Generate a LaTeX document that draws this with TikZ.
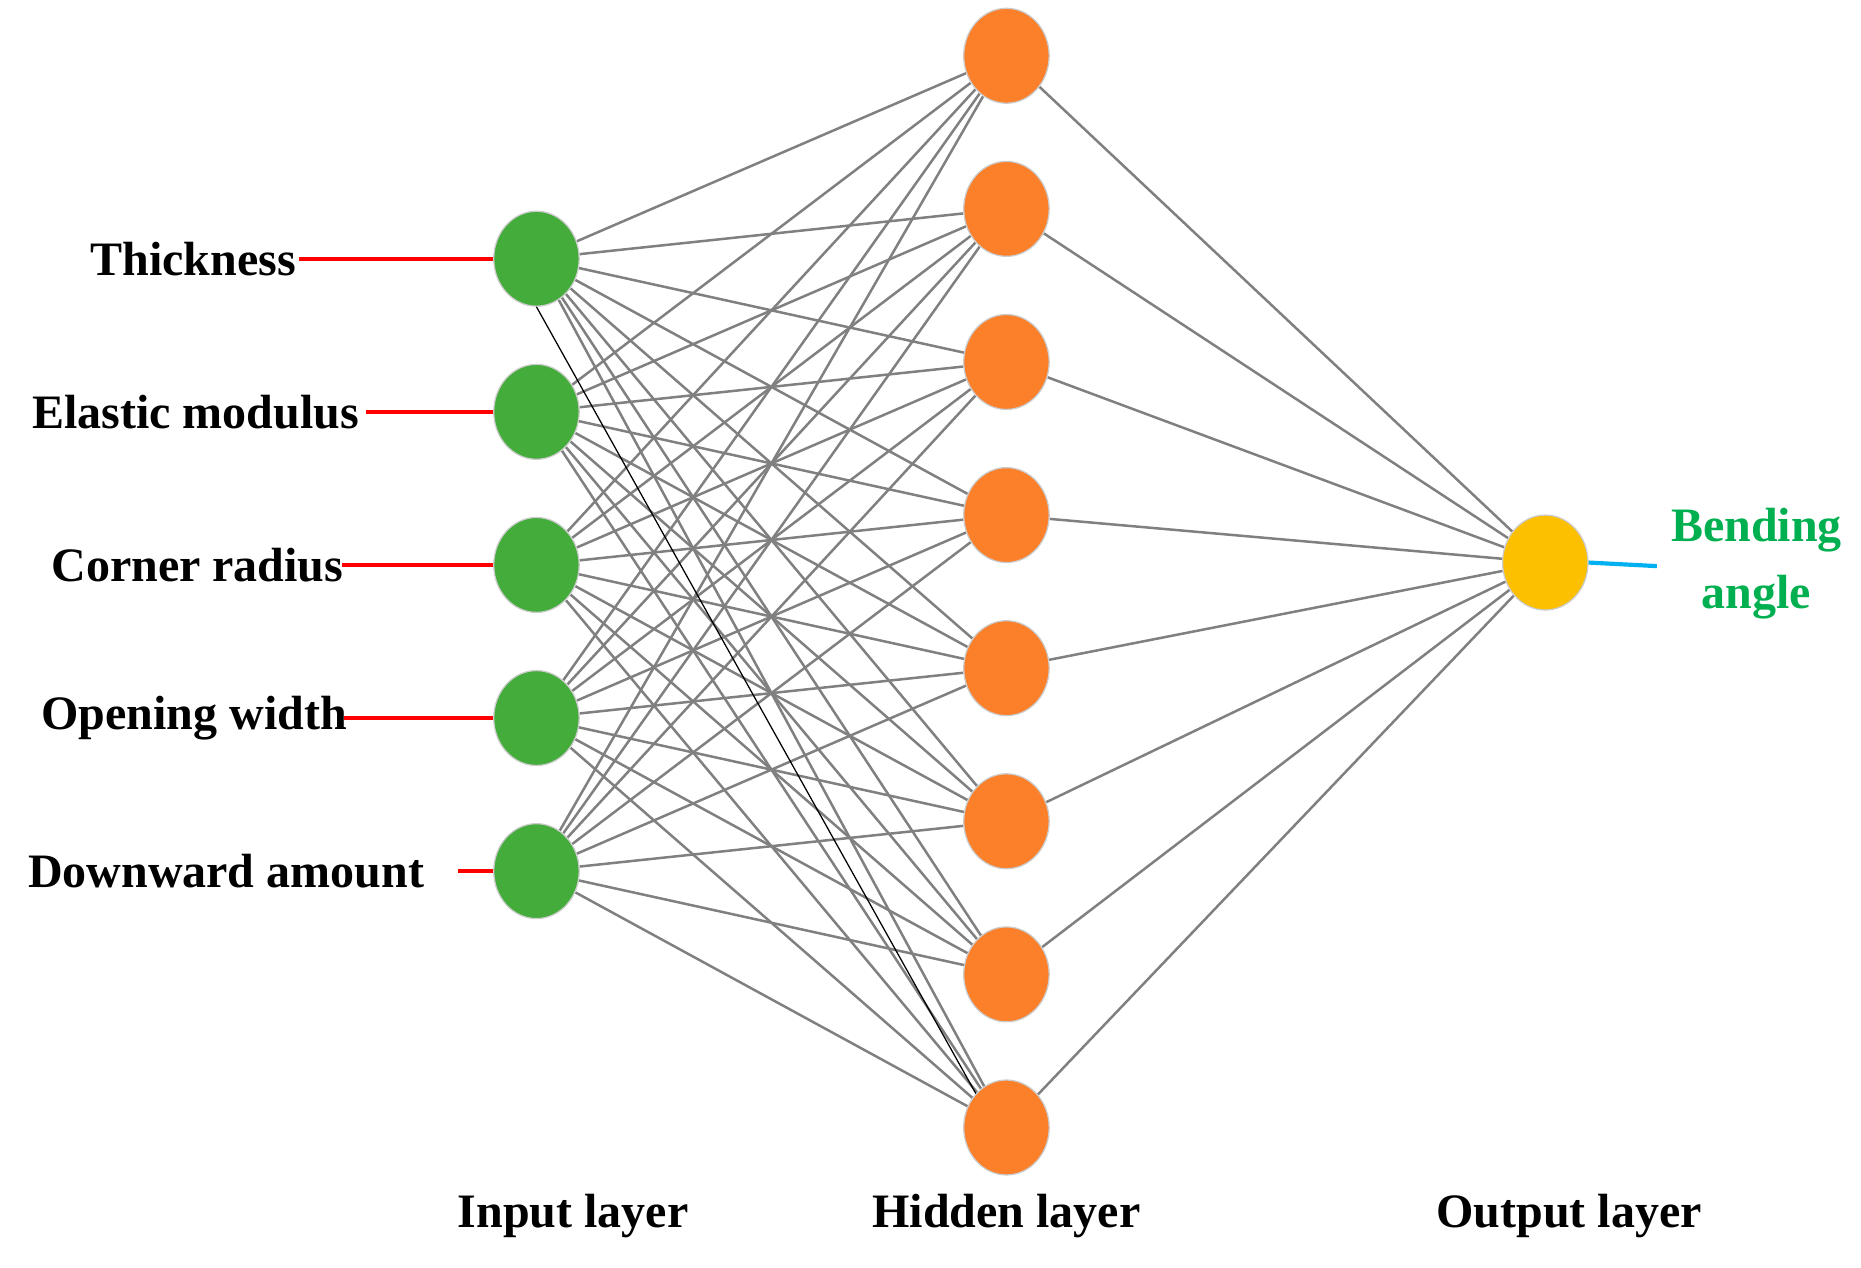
\documentclass[tikz,border=0pt]{standalone}
\usepackage{fontspec}
\setmainfont{Liberation Serif}
\usetikzlibrary{shapes.geometric,backgrounds}
\definecolor{cgreen}{RGB}{67,172,58}
\definecolor{corange}{RGB}{252,127,42}
\definecolor{cyellow}{RGB}{252,192,0}
\definecolor{cgray}{RGB}{128,128,128}
\definecolor{cblue}{RGB}{0,176,240}
\definecolor{ctext}{RGB}{0,176,80}
\begin{document}
\begin{tikzpicture}[x=0.01cm,y=-0.01cm,
 neuron/.style={ellipse,draw=gray!40,line width=0.3pt,minimum width=72*0.01cm,minimum height=80*0.01cm,inner sep=0pt},
 inp/.style={neuron,fill=cgreen},
 hid/.style={neuron,fill=corange},
 outn/.style={neuron,fill=cyellow},
 lab/.style={font=\fontsize{11.5}{13}\selectfont\bfseries,inner sep=0pt},
 conn/.style={draw=cgray,line width=0.6pt},
 feed/.style={draw=red,line width=0.9pt}]
\useasboundingbox (0,0) rectangle (1568,1068);
\foreach \i/\y in {1/218,2/347,3/476,4/605,5/734} \node[inp] (i\i) at (452,\y) {};
\foreach \j/\y in {1/47,2/176,3/305,4/434,5/563,6/692,7/821,8/950} \node[hid] (h\j) at (848,\y) {};
\node[outn] (o) at (1302,474) {};
\begin{scope}[on background layer]
\foreach \i in {1,...,5} \foreach \j in {1,...,8} \draw[conn] (i\i) -- (h\j);
\foreach \j in {1,...,8} \draw[conn] (h\j) -- (o);
\end{scope}
\draw[black,line width=0.3pt] (i1.south) -- (h8.north west);
\node[lab,anchor=east] (l1) at (250,218) {Thickness};
\node[lab,anchor=east] (l2) at (303,347) {Elastic modulus};
\node[lab,anchor=east] (l3) at (290,476) {Corner radius};
\node[lab,anchor=east] (l4) at (293,605) {Opening width};
\node[lab,anchor=east] (l5) at (358,734) {Downward amount};
\coordinate (c1) at (252,218); \coordinate (c2) at (308,347);
\coordinate (c3) at (288,476); \coordinate (c4) at (290,605); \coordinate (c5) at (386,734);
\foreach \i in {1,...,5} \draw[feed] (c\i) -- (i\i.west);
\coordinate (b) at (1396,477);
\draw[cblue,line width=1pt] (o.east) -- (b);
\node[lab,text=ctext,align=center] (ba) at (1480,475) {Bending\\[3pt]angle};
\node[lab] (t1) at (483,1025) {Input layer};
\node[lab] (t2) at (848,1025) {Hidden layer};
\node[lab] (t3) at (1322,1025) {Output layer};
\end{tikzpicture}
\end{document}
